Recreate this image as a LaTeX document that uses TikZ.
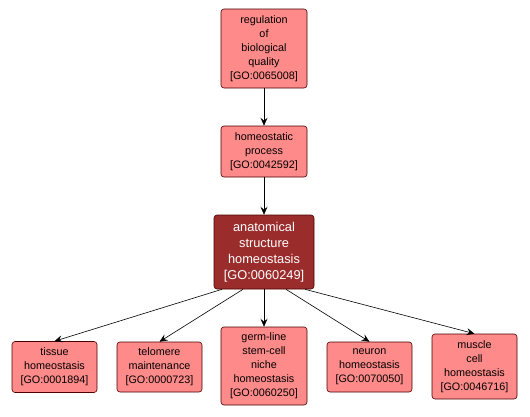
\documentclass[tikz,border=0pt]{standalone}
\usepackage{fontspec}
\setmainfont{Liberation Sans}
\usetikzlibrary{arrows.meta}

\definecolor{termfill}{HTML}{FF8A8A}
\definecolor{termdark}{HTML}{9B2C2C}
\tikzstyle{term} = [draw=black!70!red, fill=termfill, rounded corners=3pt, align=center,
  inner sep=0pt, font=\fontsize{10.8}{14}\selectfont, line width=0.6pt]
\tikzstyle{focus} = [term, fill=termdark, text=white, font=\fontsize{12.8}{16}\selectfont]
\tikzstyle{isa} = [-{Stealth[length=8pt,width=7pt,inset=3pt]}, line width=0.6pt]

\begin{document}
\begin{tikzpicture}[x=1pt, y=-1pt]
\useasboundingbox (0,0) rectangle (530,416);
%top
\node[term, minimum width=86pt, minimum height=79pt] (regbio) at (264,48.5)
  {regulation\\of\\biological\\quality\\{[GO:0065008]}};
\node[term, minimum width=86pt, minimum height=51pt] (homeo) at (264,151.5)
  {homeostatic\\process\\{[GO:0042592]}};
%middle
\node[focus, minimum width=100pt, minimum height=74pt] (anat) at (264,252)
  {anatomical\\structure\\homeostasis\\{[GO:0060249]}};
%begin children
\node[term, minimum width=85pt, minimum height=51pt] (tissue) at (54.5,367)
  {tissue\\homeostasis\\{[GO:0001894]}};
\node[term, minimum width=85pt, minimum height=50pt] (telomere) at (159.5,367)
  {telomere\\maintenance\\{[GO:0000723]}};
\node[term, minimum width=86pt, minimum height=78pt] (germ) at (264,366)
  {germ-line\\stem-cell\\niche\\homeostasis\\{[GO:0060250]}};
\node[term, minimum width=85pt, minimum height=50pt] (neuron) at (369.5,367)
  {neuron\\homeostasis\\{[GO:0070050]}};
\node[term, minimum width=85pt, minimum height=65pt] (muscle) at (474.5,366.5)
  {muscle\\cell\\homeostasis\\{[GO:0046716]}};
%end children
%edges
\draw[isa] (regbio) -- (homeo);
\draw[isa] (homeo) -- (anat);
\draw[isa] ([xshift=-42pt]anat.south) -- (tissue.north);
\draw[isa] ([xshift=-21pt]anat.south) -- (telomere.north);
\draw[isa] (anat) -- (germ.north);
\draw[isa] ([xshift=22pt]anat.south) -- (neuron.north);
\draw[isa] ([xshift=41pt]anat.south) -- (muscle.north);
\end{tikzpicture}
\end{document}
